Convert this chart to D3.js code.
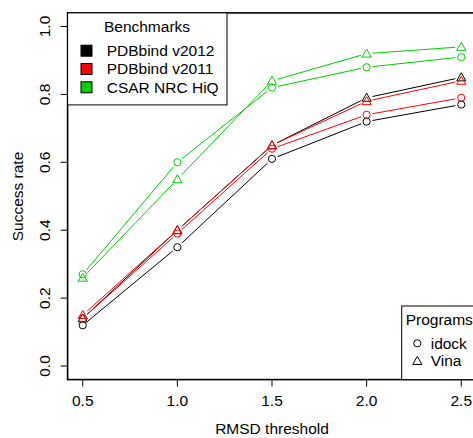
<!DOCTYPE html>
<head>
  <meta charset="utf-8">
  <script src="https://d3js.org/d3.v7.min.js"></script>
  <style>
    body { margin: 0; background: #fff; }
    text { font-family: "Liberation Sans", Arial, sans-serif; fill: #000; }
  </style>
</head>
<body>
<script>
  // data
  var thresholds = [0.5, 1.0, 1.5, 2.0, 2.5];
  var xTicks = [0.5, 1.0, 1.5, 2.0, 2.5];
  var yTicks = [0.0, 0.2, 0.4, 0.6, 0.8, 1.0];
  var benchmarks = ["PDBbind v2012", "PDBbind v2011", "CSAR NRC HiQ"];
  var benchColors = ["#000000", "#ff0000", "#00cd00"];
  var programs = ["idock", "Vina"];

  var idockV2012 = [0.12, 0.35, 0.61, 0.72, 0.77];
  var idockV2011 = [0.14, 0.39, 0.64, 0.74, 0.79];
  var idockCsar  = [0.27, 0.60, 0.82, 0.88, 0.91];
  var vinaV2012  = [0.14, 0.40, 0.65, 0.79, 0.85];
  var vinaV2011  = [0.15, 0.40, 0.65, 0.78, 0.84];
  var vinaCsar   = [0.26, 0.55, 0.84, 0.92, 0.94];

  var series = [
    { bench: 0, prog: "idock", values: idockV2012 },
    { bench: 0, prog: "Vina",  values: vinaV2012 },
    { bench: 1, prog: "idock", values: idockV2011 },
    { bench: 1, prog: "Vina",  values: vinaV2011 },
    { bench: 2, prog: "idock", values: idockCsar },
    { bench: 2, prog: "Vina",  values: vinaCsar }
  ];

  var W = 473, H = 438;
  var fs = "15.5px";
  var x = d3.scaleLinear().domain([0.42, 2.58]).range([67.6, 476.4]);
  var y = d3.scaleLinear().domain([-0.04, 1.04]).range([379.6, 12.9]);

  var svg = d3.select("body").append("svg")
    .attr("width", W).attr("height", H);

  // marker drawing: circle for idock, triangle for Vina
  function marker(g, prog, cx, cy, color) {
    if (prog === "idock") {
      g.append("circle").attr("cx", cx).attr("cy", cy).attr("r", 3.6)
        .attr("fill", "none").attr("stroke", color).attr("stroke-width", 1);
    } else {
      var s = 4.6;
      g.append("path")
        .attr("d", "M" + cx + "," + (cy - s) + "L" + (cx + s) + "," + (cy + s * 0.75) +
          "L" + (cx - s) + "," + (cy + s * 0.75) + "Z")
        .attr("fill", "none").attr("stroke", color).attr("stroke-width", 1);
    }
  }

  var plot = svg.append("g");
  var gap = 6;
  series.forEach(function(s) {
    var col = benchColors[s.bench];
    var pts = thresholds.map(function(t, i) { return [x(t), y(s.values[i])]; });
    // lines with gaps round the points (like type = "b")
    for (var i = 0; i < pts.length - 1; i++) {
      var a = pts[i], b = pts[i + 1];
      var dx = b[0] - a[0], dy = b[1] - a[1];
      var len = Math.sqrt(dx * dx + dy * dy);
      var ux = dx / len, uy = dy / len;
      plot.append("line")
        .attr("x1", a[0] + ux * gap).attr("y1", a[1] + uy * gap)
        .attr("x2", b[0] - ux * gap).attr("y2", b[1] - uy * gap)
        .attr("stroke", col).attr("stroke-width", 1);
    }
    pts.forEach(function(p) { marker(plot, s.prog, p[0], p[1], col); });
  });

  // frame
  svg.append("rect")
    .attr("x", x(0.42)).attr("y", y(1.04))
    .attr("width", x(2.58) - x(0.42)).attr("height", y(-0.04) - y(1.04))
    .attr("fill", "none").attr("stroke", "#000").attr("stroke-width", 1.6);

  // x axis ticks and labels
  xTicks.forEach(function(t) {
    svg.append("line").attr("x1", x(t)).attr("x2", x(t))
      .attr("y1", y(-0.04)).attr("y2", y(-0.04) + 7)
      .attr("stroke", "#000").attr("stroke-width", 1);
    svg.append("text").attr("x", x(t)).attr("y", 406)
      .attr("text-anchor", "middle").style("font-size", fs)
      .text(d3.format(".1f")(t));
  });

  // y axis ticks and labels (rotated like R)
  yTicks.forEach(function(t) {
    svg.append("line").attr("x1", x(0.42) - 7).attr("x2", x(0.42))
      .attr("y1", y(t)).attr("y2", y(t))
      .attr("stroke", "#000").attr("stroke-width", 1);
    svg.append("text")
      .attr("transform", "translate(50," + y(t) + ") rotate(-90)")
      .attr("text-anchor", "middle").style("font-size", fs)
      .text(d3.format(".1f")(t));
  });

  svg.append("text").attr("x", 272).attr("y", 434)
    .attr("text-anchor", "middle").style("font-size", fs)
    .text("RMSD threshold");
  svg.append("text")
    .attr("transform", "translate(23,196.5) rotate(-90)")
    .attr("text-anchor", "middle").style("font-size", fs)
    .text("Success rate");

  // benchmarks legend
  var leg1 = svg.append("g");
  leg1.append("rect").attr("x", 67.6).attr("y", 12.9).attr("width", 159.4).attr("height", 92)
    .attr("fill", "#fff").attr("stroke", "#000").attr("stroke-width", 1);
  leg1.append("text").attr("x", 147).attr("y", 31.7).attr("text-anchor", "middle")
    .style("font-size", fs).text("Benchmarks");
  benchmarks.forEach(function(b, i) {
    var cy = 50.7 + i * 18.3;
    leg1.append("rect").attr("x", 81).attr("y", cy - 5.5).attr("width", 11).attr("height", 11)
      .attr("fill", benchColors[i]).attr("stroke", "#000").attr("stroke-width", 1);
    leg1.append("text").attr("x", 106.7).attr("y", cy + 5.4)
      .style("font-size", fs).text(b);
  });

  // programs legend
  var leg2 = svg.append("g");
  leg2.append("rect").attr("x", 401.7).attr("y", 306).attr("width", 90).attr("height", y(-0.04) - 306)
    .attr("fill", "#fff").attr("stroke", "#000").attr("stroke-width", 1);
  leg2.append("text").attr("x", 405.7).attr("y", 325)
    .style("font-size", fs).text("Programs");
  programs.forEach(function(p, i) {
    var cy = 343.3 + i * 17.7;
    marker(leg2, p, 417.3, cy, "#000");
    leg2.append("text").attr("x", 430.7).attr("y", cy + 5.4)
      .style("font-size", fs).text(p);
  });
</script>
</body>
